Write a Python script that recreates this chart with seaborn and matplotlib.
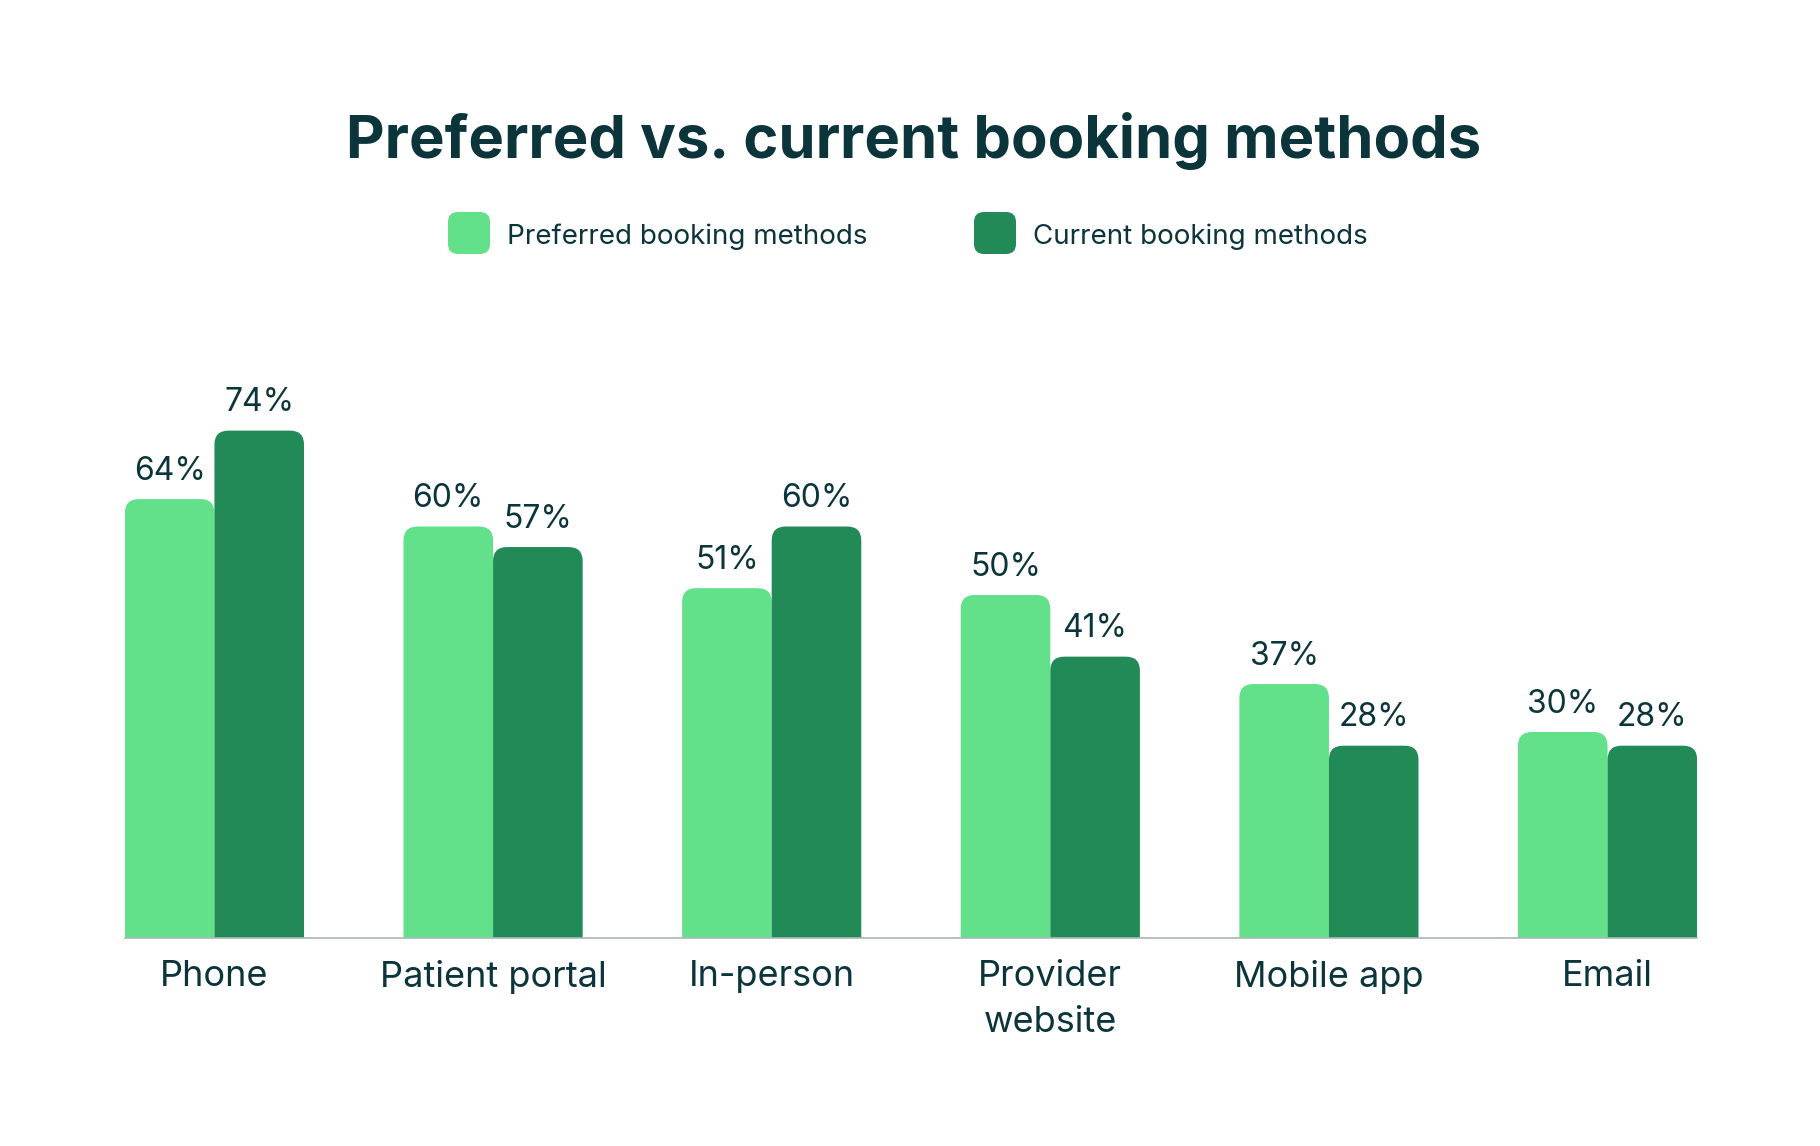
import matplotlib
matplotlib.use("Agg")
import matplotlib.pyplot as plt
from matplotlib.patches import FancyBboxPatch
import seaborn as sns
import pandas as pd

categories = ["Phone", "Patient portal", "In-person", "Provider\nwebsite", "Mobile app", "Email"]
series_names = ["Preferred booking methods", "Current booking methods"]
preferred = [64, 60, 51, 50, 37, 30]
current = [74, 57, 60, 41, 28, 28]

LIGHT = "#62E08A"
DARK = "#218A56"
TEXT = "#0B353B"
AXIS = "#A9B7B8"

df = pd.DataFrame({
    "category": categories * 2,
    "series": [series_names[0]] * len(categories) + [series_names[1]] * len(categories),
    "value": preferred + current,
})

sns.set_theme(style="white")
plt.rcParams["font.family"] = ["Inter", "DejaVu Sans"]

W, H = 1820, 1146
fig = plt.figure(figsize=(W / 100, H / 100), dpi=100)
base = 937.5
ax = fig.add_axes([125 / W, 1 - base / H, 1572 / W, 548 / H])

sns.barplot(data=df, x="category", y="value", hue="series", order=categories,
            hue_order=series_names, palette=[LIGHT, DARK], saturation=1,
            width=0.643, gap=0, dodge=True, legend=False, ax=ax, errorbar=None)

ax.set_xlim(-0.321, len(categories) - 1 + 0.321)
ax.set_ylim(0, 80)
fig.canvas.draw()

(x0, y0), (x1, y1) = ax.transData.transform([(0, 0), (1, 1)])
px_x = x1 - x0
px_y = y1 - y0
radius_px = 14
aspect = px_x / px_y

bars = list(ax.patches)
for p in bars:
    x = p.get_x()
    w = p.get_width()
    h = p.get_height()
    fc = p.get_facecolor()
    p.remove()
    low = -5
    rb = FancyBboxPatch((x, low), w, h - low,
                        boxstyle=f"round,pad=0,rounding_size={radius_px / px_x}",
                        mutation_aspect=aspect, facecolor=fc, edgecolor="none",
                        linewidth=0, zorder=2)
    ax.add_patch(rb)
    ax.annotate(f"{h:.0f}%", xy=(x + w / 2, h), xytext=(0, 14),
                textcoords="offset points", ha="center", va="baseline",
                fontsize=23, color=TEXT)

for s in ["top", "right", "left"]:
    ax.spines[s].set_visible(False)
ax.spines["bottom"].set_color(AXIS)
ax.spines["bottom"].set_linewidth(1.2)
ax.spines["bottom"].set_zorder(3)
ax.set_yticks([])
ax.set_xlabel("")
ax.set_ylabel("")
ax.tick_params(axis="x", length=0, pad=16.5, labelsize=26, labelcolor=TEXT)
for t in ax.get_xticklabels():
    t.set_linespacing(1.5)
    t.set_verticalalignment("top")

fig.text(0.502, 1 - 158 / H, "Preferred vs. current booking methods",
         ha="center", va="baseline", fontsize=43, fontweight="bold", color=TEXT)

leg_y = 233
for sx, tx, col, name in [(448, 507, LIGHT, series_names[0]), (974, 1033, DARK, series_names[1])]:
    sq = FancyBboxPatch((sx / W, 1 - (leg_y + 21) / H), 42 / W, 42 / H,
                        boxstyle=f"round,pad=0,rounding_size={10 / W}",
                        mutation_aspect=W / H, transform=fig.transFigure,
                        facecolor=col, edgecolor="none")
    fig.patches.append(sq)
    fig.text(tx / W, 1 - 244 / H, name, ha="left", va="baseline",
             fontsize=20, color=TEXT)

fig.savefig("out.png", dpi=100, facecolor="white")
